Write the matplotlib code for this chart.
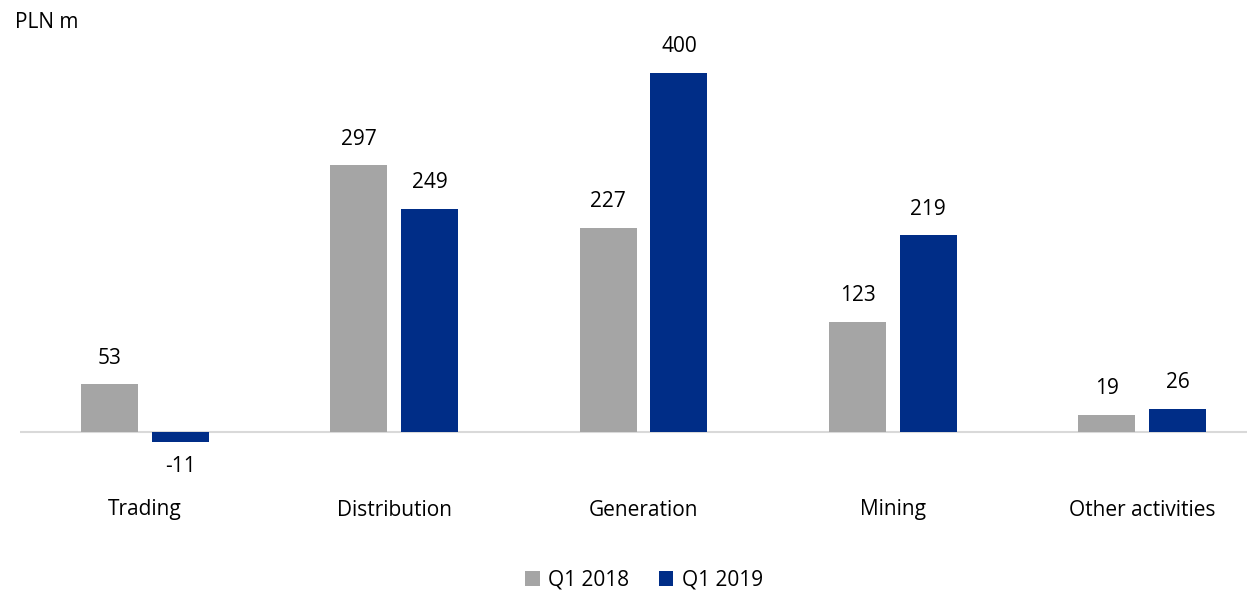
import matplotlib
matplotlib.use("Agg")
import matplotlib.pyplot as plt
import numpy as np

categories = ["Trading", "Distribution", "Generation", "Mining", "Other activities"]
q1_2018 = [53, 297, 227, 123, 19]
q1_2019 = [-11, 249, 400, 219, 26]
series_labels = ["Q1 2018", "Q1 2019"]

GRAY = "#A5A5A5"
BLUE = "#002D87"

plt.rcParams["font.family"] = ["Open Sans", "DejaVu Sans"]
FS = 15

W, H = 1247, 593
fig = plt.figure(figsize=(W / 100, H / 100), dpi=100)

# axes placed in pixel terms: baseline at y=432, value 400 at y=73
px_per_unit = (432 - 73) / 400
top_px, bot_px = 40, 540
y_top = (432 - top_px) / px_per_unit
y_bot = (432 - bot_px) / px_per_unit
ax = fig.add_axes([20 / W, 1 - bot_px / H, (W - 20) / W, (bot_px - top_px) / H])

x = np.arange(len(categories))
width = 0.228
off = 0.142
b1 = ax.bar(x - off, q1_2018, width, color=GRAY, label=series_labels[0], zorder=3)
b2 = ax.bar(x + off, q1_2019, width, color=BLUE, label=series_labels[1], zorder=3)

step = 249.4
ax.set_xlim(-0.5, -0.5 + (W - 20) / step)
ax.set_ylim(y_bot, y_top)
ax.axhline(0, color="#D9D9D9", lw=1.5, zorder=2)

for bars in (b1, b2):
    for rect in bars:
        v = rect.get_height()
        cx = rect.get_x() + rect.get_width() / 2
        dy = 19 if v >= 0 else -18
        ax.annotate(f"{v:.0f}", (cx, v), xytext=(0, dy), textcoords="offset points",
                    ha="center", va="center", fontsize=FS)

for i, c in enumerate(categories):
    ax.text(i, (432 - 510) / px_per_unit, c, ha="center", va="center", fontsize=FS)

ax.axis("off")

fig.text(15 / W, 1 - 22 / H, "PLN m", ha="left", va="center", fontsize=FS)

fig.legend(loc="center", bbox_to_anchor=(644 / W, 1 - 580 / H), ncol=2, frameon=False,
           fontsize=FS, handlelength=0.7, handleheight=0.7, handletextpad=0.4,
           columnspacing=1.4)

fig.savefig("out.png", dpi=100)
